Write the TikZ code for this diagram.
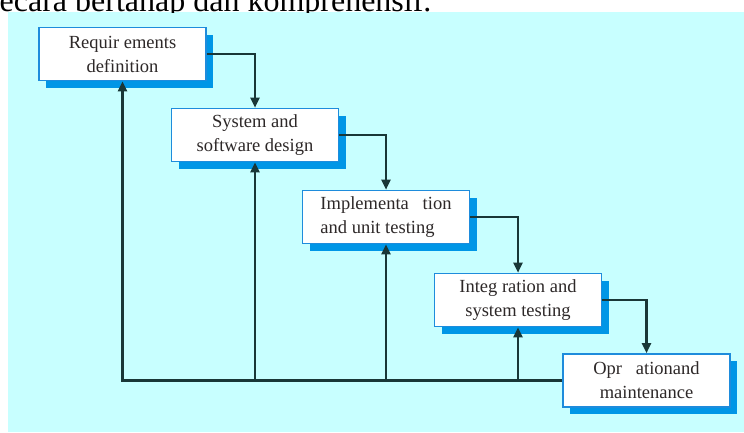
\documentclass[tikz,border=0pt]{standalone}
\usepackage{fontspec}
\setmainfont{Liberation Serif}
\usetikzlibrary{arrows.meta,shadows}
\definecolor{bgcyan}{RGB}{200,255,255}
\definecolor{boxblue}{RGB}{30,140,220}
\definecolor{shadowblue}{RGB}{0,150,230}
\definecolor{linecol}{RGB}{25,55,55}
\definecolor{txtcol}{RGB}{45,40,40}
\tikzset{
  stagebox/.style={draw=boxblue, line width=1.6pt, fill=white,
    minimum width=167pt, minimum height=53pt, inner sep=2pt,
    align=center, text=txtcol,
    font=\fontsize{18.5}{24}\selectfont,
    drop shadow={shadow xshift=7pt, shadow yshift=-7pt, fill=shadowblue, opacity=1}},
  flow/.style={draw=linecol, line width=2.2pt, -{Triangle[length=10pt,width=9pt]}},
  plain/.style={draw=linecol, line width=2.2pt}
}
\begin{document}
\begin{tikzpicture}[x=1pt,y=-1pt]
\useasboundingbox (0,0) rectangle (744,432);
\fill[white] (0,0) rectangle (744,432);
\fill[bgcyan] (8,12) rectangle (744,432);
\begin{scope}
\clip (0,0) rectangle (744,12);
\node[anchor=base west, inner sep=0pt, font=\fontsize{32}{38}\selectfont] (top) at (-13,11) {secara bertahap dan komprehensif.};
\end{scope}

\node[stagebox] (b1) at (122.5,54) {Requir ements\\definition};
\node[stagebox] (b2) at (255,135) {System and\\software design};
\node[stagebox, align=left] (b3) at (386,217) {Implementa\ \ \ tion\\and unit testing};
\node[stagebox] (b4) at (518,300) {Integ ration and\\system testing};
\node[stagebox] (b5) at (646.5,380.5) {Opr\ \ \ ationand\\maintenance};

\draw[flow] (b1.east) -| (b2.north);
\draw[flow] (b2.east) -| (b3.north);
\draw[flow] (b3.east) -| (b4.north);
\draw[flow] (b4.east) -| (b5.north);

\draw[flow] (b5.west) -| (b1.south);
\coordinate (f2) at (b2.south |- b5.west);
\coordinate (f3) at (b3.south |- b5.west);
\coordinate (f4) at (b4.south |- b5.west);
\draw[flow] (f2) -- (b2.south);
\draw[flow] (f3) -- (b3.south);
\draw[flow] (f4) -- (b4.south);
\end{tikzpicture}
\end{document}
